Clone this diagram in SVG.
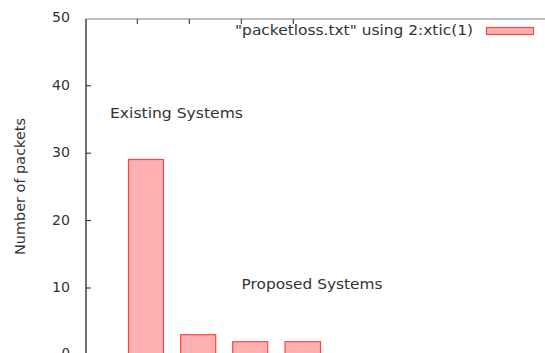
<svg xmlns="http://www.w3.org/2000/svg" width="545" height="353" viewBox="0 0 545 353">
<style>
text{font-family:"DejaVu Sans",sans-serif;font-size:13.5px;fill:#333}
.yt{text-anchor:end}
.bar{fill:#ffb0b0;stroke:#f44;stroke-width:1.2}
.tick{stroke:#222;stroke-width:1}
</style>
<rect width="545" height="353" fill="#fff"/>
<g id="axes">
<line x1="86" y1="19" x2="545" y2="19" stroke="#808080" stroke-width="1.2"/>
<line x1="86" y1="19" x2="86" y2="353" stroke="#111" stroke-width="1.2"/>
<g class="tick">
<line x1="86" y1="85.8" x2="91" y2="85.8"/>
<line x1="86" y1="153.2" x2="91" y2="153.2"/>
<line x1="86" y1="220.6" x2="91" y2="220.6"/>
<line x1="86" y1="288" x2="91" y2="288"/>
<line x1="137.3" y1="19" x2="137.3" y2="24"/>
<line x1="189.3" y1="19" x2="189.3" y2="24"/>
<line x1="241.3" y1="19" x2="241.3" y2="24"/>
<line x1="293.3" y1="19" x2="293.3" y2="24"/>
</g>
<text x="52" y="22" textLength="18" lengthAdjust="spacingAndGlyphs">50</text>
<text x="52" y="90" textLength="18" lengthAdjust="spacingAndGlyphs">40</text>
<text x="52" y="157" textLength="18" lengthAdjust="spacingAndGlyphs">30</text>
<text x="52" y="225" textLength="18" lengthAdjust="spacingAndGlyphs">20</text>
<text x="52" y="292" textLength="18" lengthAdjust="spacingAndGlyphs">10</text>
<text class="yt" x="70" y="358">0</text>
<text transform="translate(24.5,255) rotate(-90)" textLength="137" lengthAdjust="spacingAndGlyphs">Number of packets</text>
</g>
<g id="bars">
<rect class="bar" x="128.5" y="159.5" width="35" height="200"/>
<rect class="bar" x="180.7" y="334.7" width="35" height="30"/>
<rect class="bar" x="232.7" y="341.7" width="35" height="30"/>
<rect class="bar" x="285" y="341.7" width="35.5" height="30"/>
</g>
<g id="labels">
<text x="110" y="118" textLength="133" lengthAdjust="spacingAndGlyphs">Existing Systems</text>
<text x="241.5" y="289" textLength="141" lengthAdjust="spacingAndGlyphs">Proposed Systems</text>
</g>
<g id="legend">
<text x="235" y="35" textLength="238" lengthAdjust="spacingAndGlyphs">"packetloss.txt" using 2:xtic(1)</text>
<rect class="bar" x="486.5" y="27.5" width="47" height="7"/>
</g>
</svg>
